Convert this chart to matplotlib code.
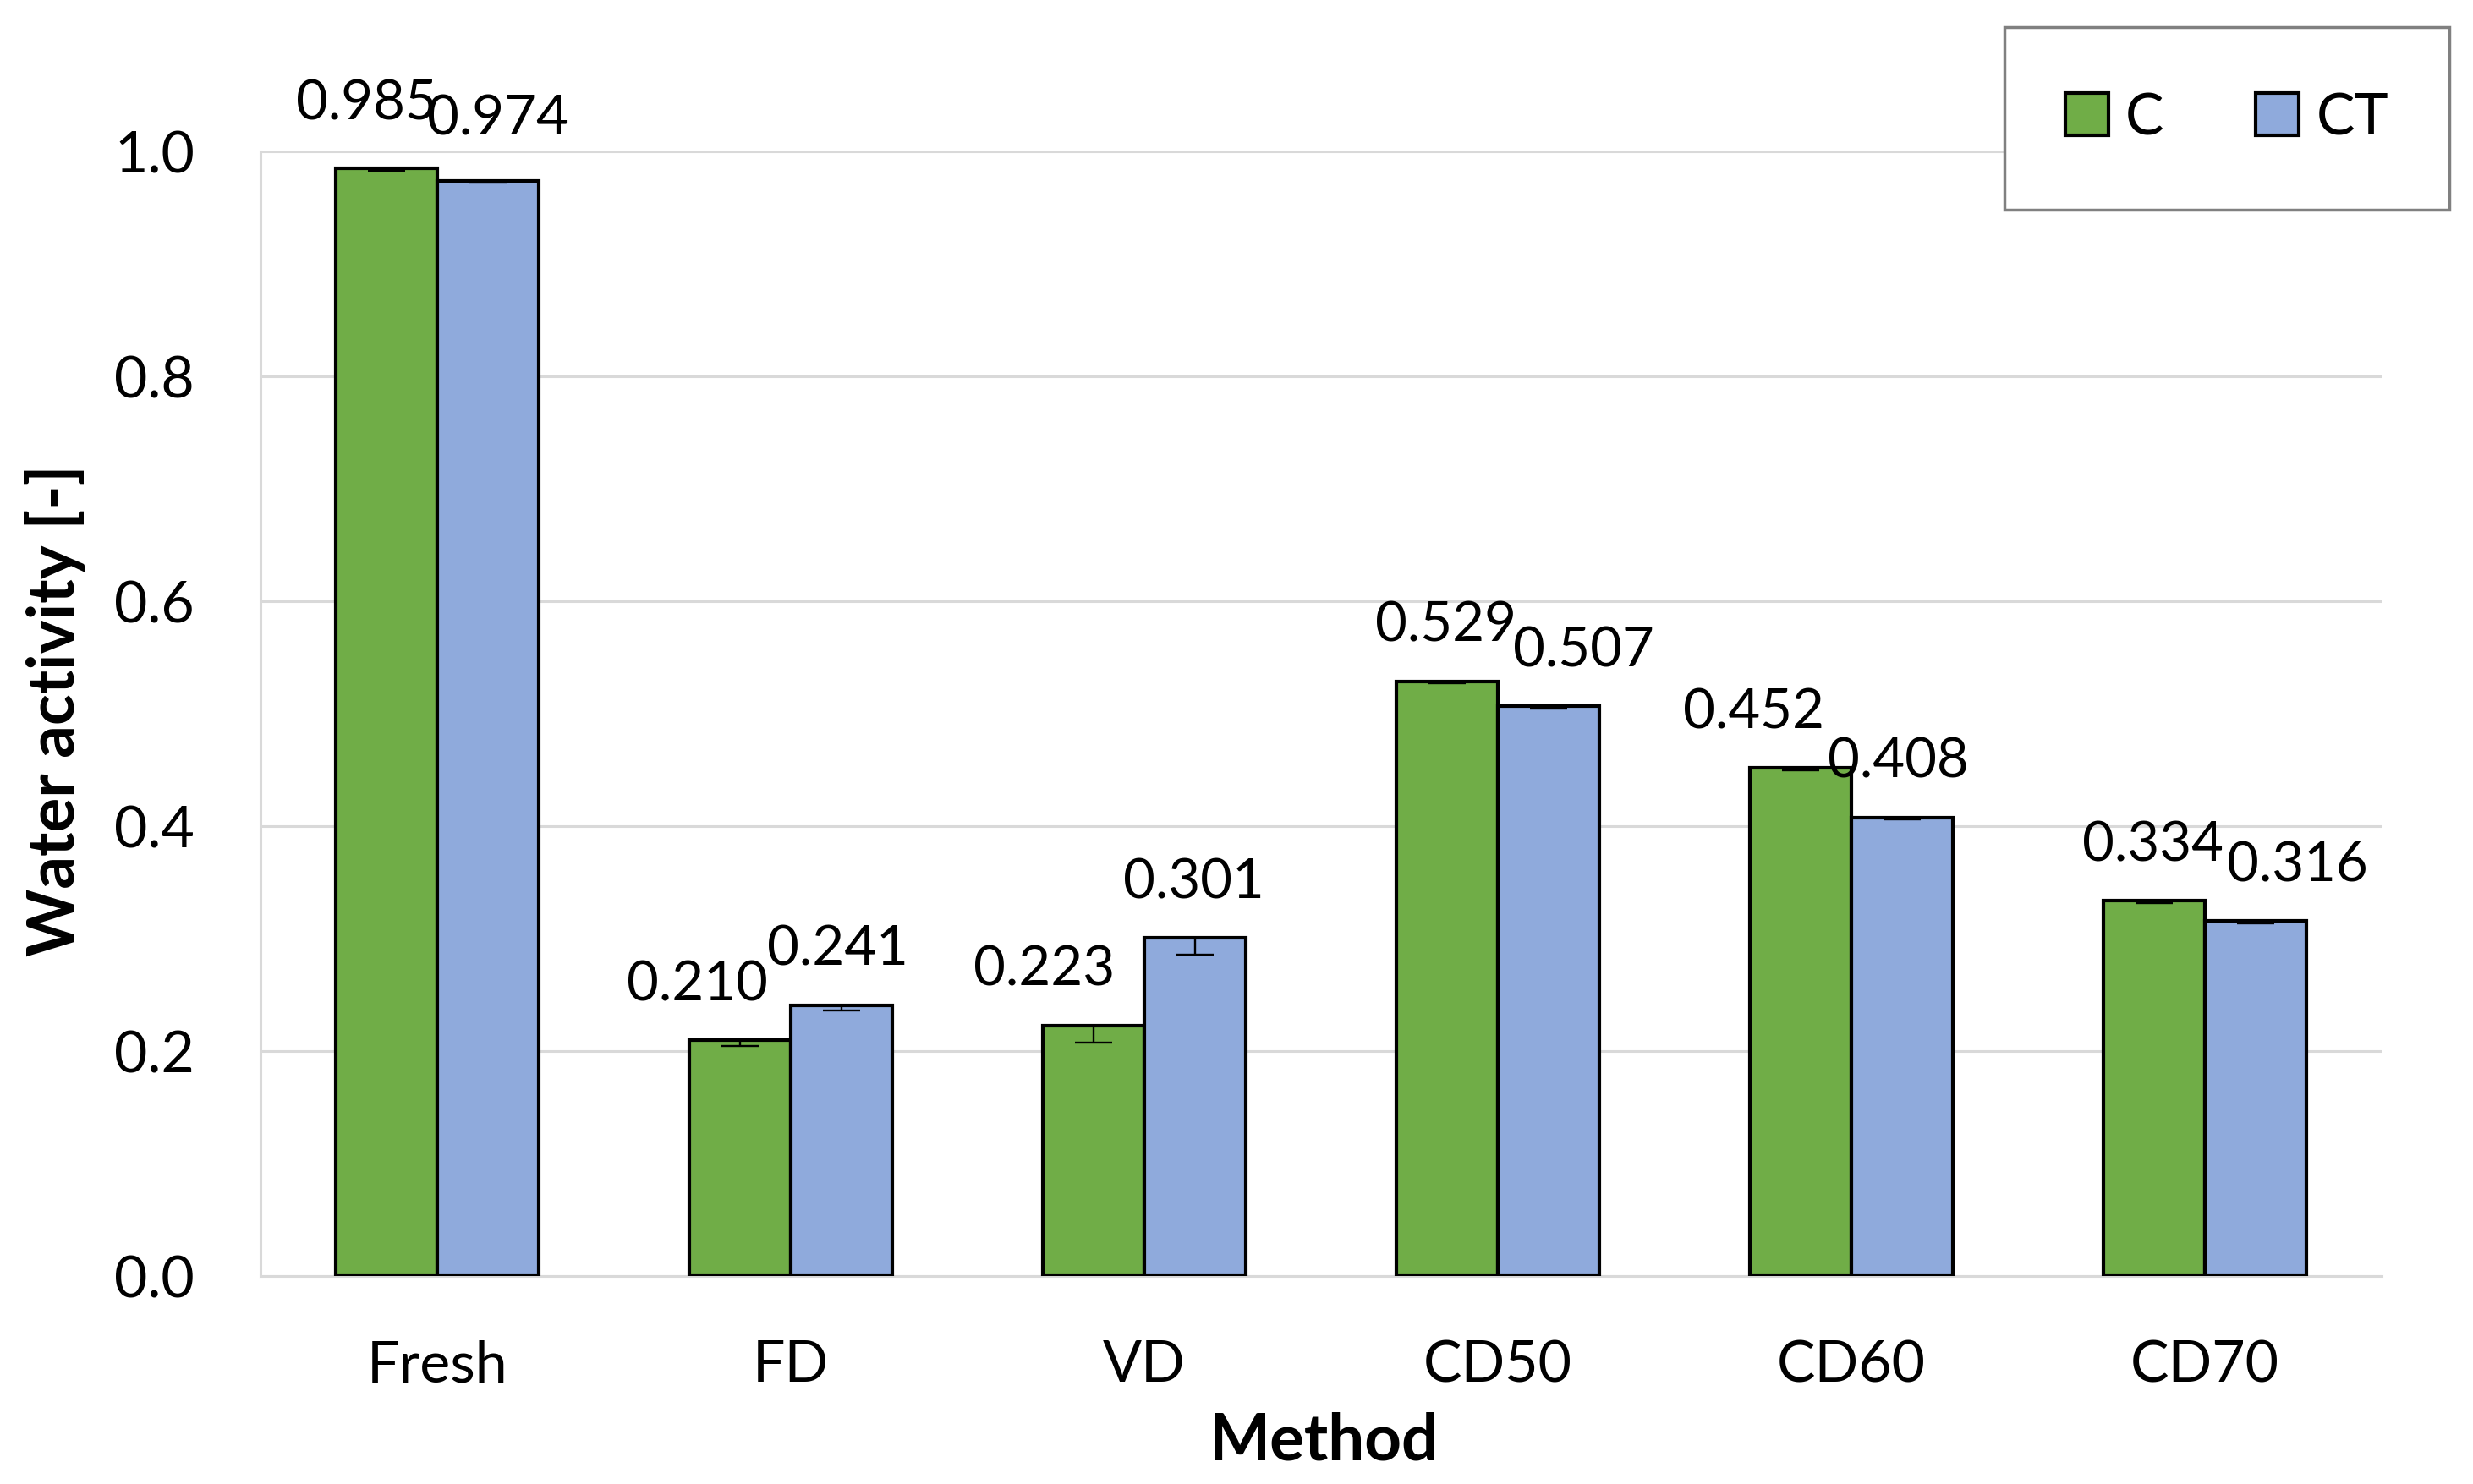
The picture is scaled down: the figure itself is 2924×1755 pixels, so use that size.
import matplotlib
matplotlib.use("Agg")
import matplotlib.pyplot as plt
from matplotlib.patches import Rectangle, Patch
import numpy as np

plt.rcParams['font.family'] = ['Lato', 'DejaVu Sans']

categories = ["Fresh", "FD", "VD", "CD50", "CD60", "CD70"]
series_names = ["C", "CT"]
c_values = [0.985, 0.210, 0.223, 0.529, 0.452, 0.334]
ct_values = [0.974, 0.241, 0.301, 0.507, 0.408, 0.316]
c_err = [0.002, 0.005, 0.015, 0.002, 0.002, 0.002]
ct_err = [0.002, 0.005, 0.015, 0.002, 0.002, 0.002]
y_ticks = [0.0, 0.2, 0.4, 0.6, 0.8, 1.0]
x_title = "Method"
y_title = "Water activity [-]"

# label offsets (points) - style only
c_dx = [-17, -36, -42, -1, -40, -1]
ct_dx = [8, -3, -1, 30, -3, 36]
c_dy = [55, 47, 47, 47, 47, 47]
ct_dy = [52, 47, 47, 47, 47, 47]

green = "#70AD47"
blue = "#8FAADC"
grid_col = "#D9D9D9"

fig = plt.figure(figsize=(29.24, 17.55), dpi=100)
ax = fig.add_axes([0.1053, 0.140, 0.963 - 0.1053, 0.898 - 0.140])

x = np.arange(len(categories))
w = 0.287
fs = 48

b1 = ax.bar(x - w / 2, c_values, w, color=green, edgecolor="black", linewidth=3.0, zorder=3)
b2 = ax.bar(x + w / 2, ct_values, w, color=blue, edgecolor="black", linewidth=3.0, zorder=3)

zeros = np.zeros(len(categories))
ax.errorbar(x - w / 2, c_values, yerr=[c_err, zeros], fmt="none", ecolor="black",
            elinewidth=1.7, capsize=16, capthick=1.7, zorder=4)
ax.errorbar(x + w / 2, ct_values, yerr=[ct_err, zeros], fmt="none", ecolor="black",
            elinewidth=1.7, capsize=16, capthick=1.7, zorder=4)

for i in range(len(categories)):
    ax.annotate(f"{c_values[i]:.3f}", (x[i] - w / 2, c_values[i]), xytext=(c_dx[i], c_dy[i]),
                textcoords="offset points", ha="center", va="center", fontsize=fs - 1,
                annotation_clip=False, zorder=5)
    ax.annotate(f"{ct_values[i]:.3f}", (x[i] + w / 2, ct_values[i]), xytext=(ct_dx[i], ct_dy[i]),
                textcoords="offset points", ha="center", va="center", fontsize=fs - 1,
                annotation_clip=False, zorder=5)

ax.set_xlim(-0.5, len(categories) - 0.5)
ax.set_ylim(0, 1.0)
ax.set_yticks(y_ticks)
ax.set_yticklabels([f"{t:.1f}" for t in y_ticks])
ax.set_xticks(x)
ax.set_xticklabels(categories)
ax.tick_params(axis="both", length=0, labelsize=fs + 1)
ax.tick_params(axis="y", pad=56)
ax.tick_params(axis="x", pad=54)

ax.yaxis.grid(True, color=grid_col, linewidth=2.2, zorder=0)
ax.set_axisbelow(True)
for s in ["top", "right"]:
    ax.spines[s].set_visible(False)
ax.spines["left"].set_color(grid_col)
ax.spines["left"].set_linewidth(2.2)
ax.spines["bottom"].set_color(grid_col)
ax.spines["bottom"].set_linewidth(2.2)

fig.text(0.5355, 0.029, x_title, ha="center", va="center", fontsize=55, fontweight="bold")
fig.text(0.0223, 0.521, y_title, ha="center", va="center", fontsize=55, fontweight="bold",
         rotation=90)

# legend box
box = Rectangle((0.8106, 0.8587), 0.9904 - 0.8106, 0.9818 - 0.8587, transform=fig.transFigure,
                facecolor="white", edgecolor="#808080", linewidth=2.5, zorder=10)
fig.patches.append(box)
handles = [Patch(facecolor=green, edgecolor="black", linewidth=3.0),
           Patch(facecolor=blue, edgecolor="black", linewidth=3.0)]
leg = fig.legend(handles, series_names, loc="center", bbox_to_anchor=(0.9005, 0.9202),
                 ncol=2, frameon=False, fontsize=fs + 1, handlelength=0.75, handleheight=0.75,
                 handletextpad=0.3, columnspacing=1.6)
leg.set_zorder(11)

fig.savefig("out.png", dpi=100)
